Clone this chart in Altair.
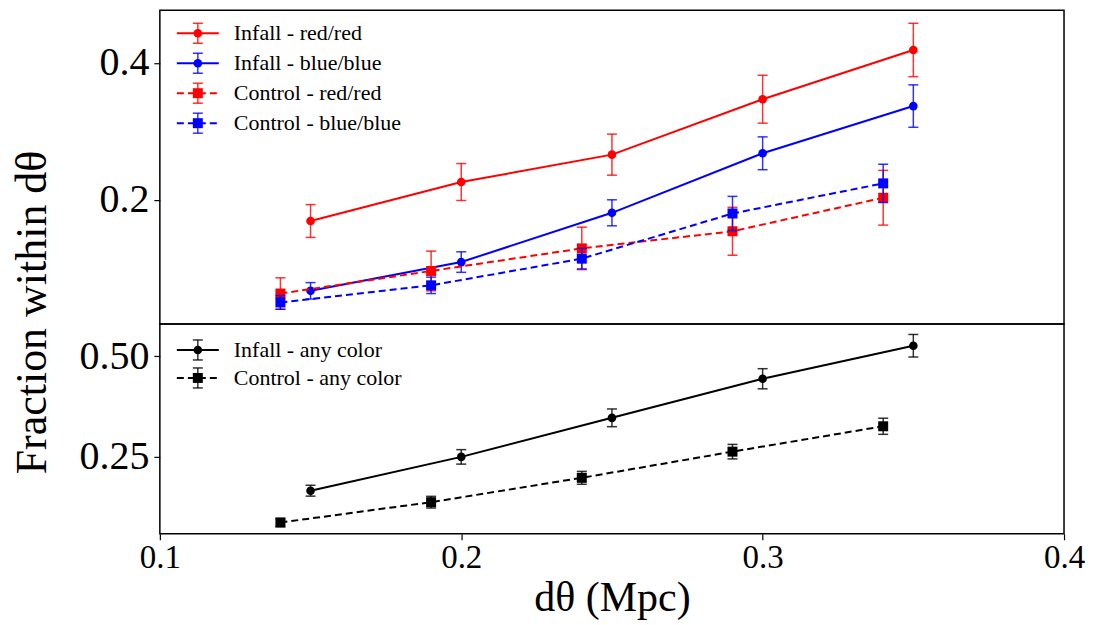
import altair as alt
import pandas as pd

FONT = "Liberation Serif"

# ---- data ----
x_infall = [0.15, 0.20, 0.25, 0.30, 0.35]
x_control = [0.14, 0.19, 0.24, 0.29, 0.34]

infall_rr = [0.169, 0.226, 0.266, 0.347, 0.419]
infall_rr_err = [0.024, 0.027, 0.030, 0.035, 0.039]
infall_bb = [0.067, 0.109, 0.181, 0.268, 0.337]
infall_bb_err = [0.012, 0.015, 0.019, 0.024, 0.031]
control_rr = [0.063, 0.096, 0.129, 0.154, 0.203]
control_rr_err = [0.023, 0.029, 0.031, 0.035, 0.040]
control_bb = [0.050, 0.075, 0.114, 0.180, 0.224]
control_bb_err = [0.010, 0.012, 0.015, 0.025, 0.028]

infall_any = [0.166, 0.250, 0.347, 0.444, 0.526]
infall_any_err = [0.0135, 0.018, 0.022, 0.025, 0.028]
control_any = [0.087, 0.1375, 0.198, 0.263, 0.326]
control_any_err = [0.010, 0.0145, 0.016, 0.018, 0.020]

top_labels = ["Infall - red/red", "Infall - blue/blue", "Control - red/red", "Control - blue/blue"]
bottom_labels = ["Infall - any color", "Control - any color"]

x_ticks = [0.1, 0.2, 0.3, 0.4]
top_y_ticks = [0.2, 0.4]
bottom_y_ticks = [0.25, 0.50]

RED = "#ff0000"
BLUE = "#0000ff"
BLACK = "#000000"
DASH = [7, 4]

top_series = [
    (top_labels[0], x_infall, infall_rr, infall_rr_err, RED, False, "circle"),
    (top_labels[1], x_infall, infall_bb, infall_bb_err, BLUE, False, "circle"),
    (top_labels[2], x_control, control_rr, control_rr_err, RED, True, "square"),
    (top_labels[3], x_control, control_bb, control_bb_err, BLUE, True, "square"),
]
bottom_series = [
    (bottom_labels[0], x_infall, infall_any, infall_any_err, BLACK, False, "circle"),
    (bottom_labels[1], x_control, control_any, control_any_err, BLACK, True, "square"),
]


def make_df(x, y, e):
    return pd.DataFrame({
        "x": x,
        "y": y,
        "lo": [a - b for a, b in zip(y, e)],
        "hi": [a + b for a, b in zip(y, e)],
    })


def line_kw(color, dashed, width):
    kw = dict(color=color, strokeWidth=width)
    if dashed:
        kw["strokeDash"] = DASH
    return kw


def panel(series_list, ydomain, yticks, yfmt, height, show_x, ytitle, leg_y0, leg_dy):
    xs = alt.Scale(domain=[0.1, 0.4], nice=False, zero=False)
    ys = alt.Scale(domain=ydomain, nice=False, zero=False)
    if show_x:
        xaxis = alt.Axis(values=x_ticks, format=".1f", title="dθ (Mpc)",
                         labelFontSize=33, titleFontSize=42, tickSize=6,
                         labelPadding=2, titlePadding=3, labelFlush=False)
    else:
        xaxis = None
    yaxis_kw = dict(values=yticks, format=yfmt, labelFontSize=40, tickSize=6,
                    labelPadding=5, labelFlush=False, title=ytitle)
    if ytitle:
        yaxis_kw.update(titleFontSize=44, titleX=-114, titleY=302,
                        titleBaseline="alphabetic", titleAngle=270)
    yaxis = alt.Axis(**yaxis_kw)

    X = alt.X("x:Q", scale=xs, axis=xaxis)
    layers = []
    for name, x, y, e, color, dashed, shape in series_list:
        df = make_df(x, y, e)
        msize = 100 if shape == "square" else 75
        line = alt.Chart(df).mark_line(**line_kw(color, dashed, 2)).encode(
            x=X, y=alt.Y("y:Q", scale=ys, axis=yaxis))
        bars = alt.Chart(df).mark_rule(color=color, strokeWidth=1.5, opacity=0.8).encode(
            x=X, y=alt.Y("lo:Q", scale=ys, axis=yaxis), y2="hi:Q")
        cap_lo = alt.Chart(df).mark_tick(color=color, orient="horizontal", size=10,
                                         thickness=1.5, opacity=0.8).encode(
            x=X, y=alt.Y("lo:Q", scale=ys, axis=yaxis))
        cap_hi = alt.Chart(df).mark_tick(color=color, orient="horizontal", size=10,
                                         thickness=1.5, opacity=0.8).encode(
            x=X, y=alt.Y("hi:Q", scale=ys, axis=yaxis))
        pts = alt.Chart(df).mark_point(filled=True, shape=shape, size=msize,
                                       color=color, opacity=1).encode(
            x=X, y=alt.Y("y:Q", scale=ys, axis=yaxis))
        layers += [line, bars, cap_lo, cap_hi, pts]

    # manual legend (upper left)
    for i, (name, x, y, e, color, dashed, shape) in enumerate(series_list):
        yy = leg_y0 + i * leg_dy
        ldf = pd.DataFrame({"label": [name]})
        msize = 100 if shape == "square" else 75
        layers.append(alt.Chart(ldf).mark_rule(**line_kw(color, dashed, 2)).encode(
            x=alt.value(17), x2=alt.value(59), y=alt.value(yy)))
        layers.append(alt.Chart(ldf).mark_rule(color=color, strokeWidth=1.5, opacity=0.8).encode(
            x=alt.value(38), y=alt.value(yy - 10), y2=alt.value(yy + 10)))
        for d in (-10, 10):
            layers.append(alt.Chart(ldf).mark_rule(color=color, strokeWidth=1.5, opacity=0.8).encode(
                x=alt.value(33), x2=alt.value(43), y=alt.value(yy + d)))
        layers.append(alt.Chart(ldf).mark_point(filled=True, shape=shape, size=msize,
                                                color=color, opacity=1).encode(
            x=alt.value(38), y=alt.value(yy)))
        layers.append(alt.Chart(ldf).mark_text(align="left", baseline="middle", font=FONT,
                                               fontSize=22, color="black").encode(
            x=alt.value(74), y=alt.value(yy), text="label:N"))

    return alt.layer(*layers).properties(width=905, height=height)


top = panel(top_series, [0.0185, 0.477], top_y_ticks, ".1f", 314, False,
            "Fraction within dθ", 23, 30)
bottom = panel(bottom_series, [0.059, 0.58], bottom_y_ticks, ".2f", 210, True,
               "", 26, 28)

chart = alt.vconcat(top, bottom, spacing=0, bounds="flush").configure_view(
    stroke="black", strokeWidth=1.5
).configure_axis(
    domain=False, grid=False, labelFont=FONT, titleFont=FONT,
    labelColor="black", titleColor="black", tickColor="black", tickWidth=1.2,
    titleFontWeight="normal"
).properties(padding={"left": 2, "top": 1, "right": 0, "bottom": 0})

chart.save("out.html", embed_options={"renderer": "svg", "actions": False})
